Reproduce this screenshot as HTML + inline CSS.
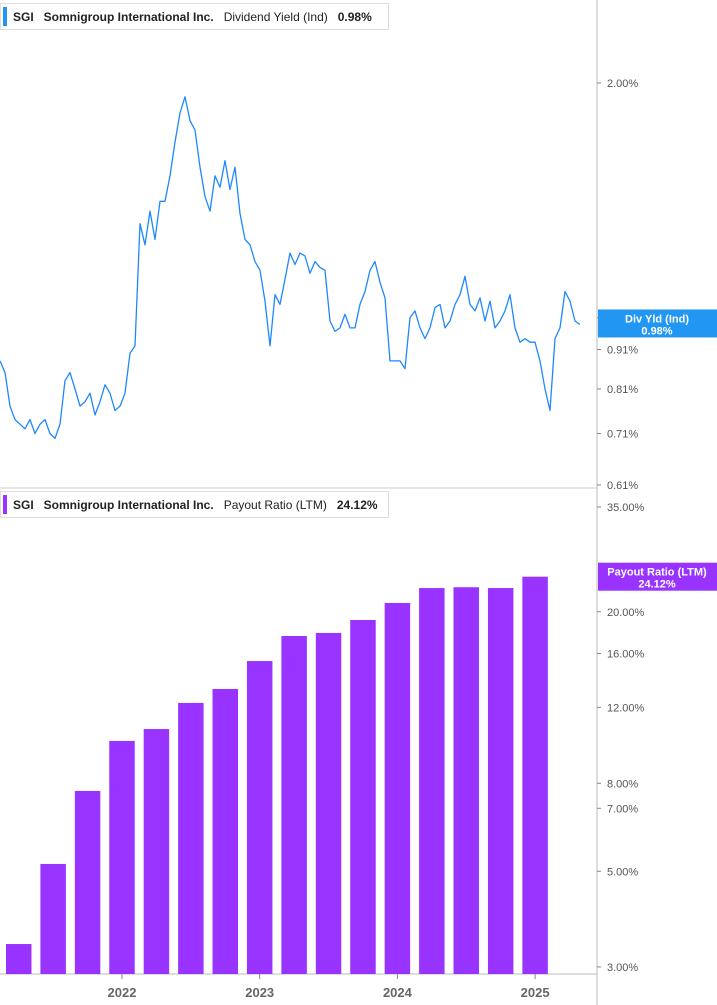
<!DOCTYPE html>
<html><head><meta charset="utf-8"><style>
body{margin:0;background:#fff;font-family:"Liberation Sans",sans-serif;}
svg{display:block}
</style></head><body>
<svg id="c" width="717" height="1005">
<line x1="597" y1="0" x2="597" y2="1005" stroke="#bbb"/>
<line x1="0" y1="488" x2="597" y2="488" stroke="#ccc"/>
<line x1="0" y1="974" x2="597" y2="974" stroke="#bbb"/>
<g id="topPanel"></g><g id="botPanel"></g><g id="xa"></g>
<g>
<rect x="0.5" y="3.5" width="388" height="26" fill="#fff" stroke="#ddd"/>
<rect x="3" y="7" width="4" height="19" fill="#2196f3"/>
<text x="13" y="21" font-size="12" font-weight="bold" fill="#222">SGI<tspan dx="10">Somnigroup International Inc.</tspan><tspan dx="10" font-weight="normal">Dividend Yield (Ind)</tspan><tspan dx="10">0.98%</tspan></text>
</g>
<g>
<rect x="0.5" y="491.5" width="388" height="26" fill="#fff" stroke="#ddd"/>
<rect x="3" y="495" width="4" height="19" fill="#9933ff"/>
<text x="13" y="509" font-size="12" font-weight="bold" fill="#222">SGI<tspan dx="10">Somnigroup International Inc.</tspan><tspan dx="10" font-weight="normal">Payout Ratio (LTM)</tspan><tspan dx="10">24.12%</tspan></text>
</g>
</svg>
<script>
const lineStart=2021.114, lineStep=0.03631;
const yieldVals=[0.88,0.85,0.77,0.74,0.73,0.72,0.74,0.71,0.73,0.74,0.71,0.70,0.73,0.83,0.85,0.81,0.77,0.78,0.80,0.75,0.78,0.82,0.80,0.76,0.77,0.80,0.90,0.92,1.32,1.24,1.37,1.26,1.41,1.41,1.52,1.68,1.83,1.92,1.79,1.74,1.56,1.43,1.37,1.52,1.47,1.59,1.46,1.56,1.36,1.26,1.24,1.18,1.15,1.05,0.92,1.07,1.04,1.12,1.21,1.17,1.21,1.20,1.14,1.18,1.16,1.15,0.99,0.96,0.97,1.01,0.97,0.97,1.04,1.08,1.15,1.18,1.11,1.06,0.88,0.88,0.88,0.86,1.00,1.02,0.97,0.94,0.97,1.03,1.04,0.97,0.99,1.04,1.07,1.13,1.04,1.02,1.06,0.99,1.05,0.97,0.99,1.02,1.07,0.97,0.93,0.94,0.93,0.93,0.88,0.81,0.76,0.94,0.97,1.08,1.05,0.99,0.98];
const topTicks=[2.00,1.00,0.91,0.81,0.71,0.61];
const barStart=2021.25, barStep=0.25;
const payoutVals=[3.39,5.20,7.68,10.03,10.69,12.29,13.24,15.37,17.57,17.86,19.14,20.96,22.7,22.8,22.7,24.12];
const botTicks=[35,20,16,12,8,7,5,3];
const years=[2022,2023,2024,2025];
const NS="http://www.w3.org/2000/svg";
const xS=t=>122+(t-2022)*137.7;
const yTop=v=>83+Math.log(2/v)*338.5;
const yBot=v=>507+Math.log(35/v)*187.2;
function el(tag,attrs,parent){const e=document.createElementNS(NS,tag);for(const k in attrs)e.setAttribute(k,attrs[k]);parent.appendChild(e);return e;}
const gTop=document.getElementById('topPanel'),gBot=document.getElementById('botPanel'),gX=document.getElementById('xa');
topTicks.forEach(v=>{
 const y=yTop(v);
 const t=el('text',{x:607,y:y+4,'font-size':11,fill:'#555'},gTop);
 
 
 t.textContent=v.toFixed(2)+'%';
 el('line',{x1:597,y1:y,x2:601,y2:y,stroke:'#888'},gTop);
});
const pts=yieldVals.map((v,i)=>xS(lineStart+i*lineStep).toFixed(1)+','+yTop(v).toFixed(1)).join(' ');
const pl=el('polyline',{points:pts,fill:'none',stroke:'#1e88ff','stroke-width':1.3,'stroke-linejoin':'round'},gTop);


const lastY=yieldVals[yieldVals.length-1];
const tb=el('g',{},gTop);


const ty=yTop(lastY);
el('rect',{x:598,y:ty-15,width:119,height:28,fill:'#2196f3'},tb);
const t1=el('text',{x:657,y:ty-2,'font-size':11,'font-weight':'bold',fill:'#fff','text-anchor':'middle'},tb);t1.textContent='Div Yld (Ind)';
const t2=el('text',{x:657,y:ty+10,'font-size':11,'font-weight':'bold',fill:'#fff','text-anchor':'middle'},tb);t2.textContent=lastY.toFixed(2)+'%';
botTicks.forEach(v=>{
 const y=yBot(v);
 const t=el('text',{x:607,y:y+4,'font-size':11,fill:'#555'},gBot);
 
 
 t.textContent=v.toFixed(2)+'%';
 el('line',{x1:597,y1:y,x2:601,y2:y,stroke:'#888'},gBot);
});
payoutVals.forEach((v,i)=>{
 const cx=xS(barStart+i*barStep),w=0.185*137.7,y=yBot(v);
 const r=el('rect',{x:cx-w/2,y:y,width:w,height:974-y,fill:'#9933ff'},gBot);
 
 
});
const lp=payoutVals[payoutVals.length-1];
const pg=el('g',{},gBot);


const py=yBot(lp);
el('rect',{x:598,y:py-14,width:119,height:28,fill:'#9933ff'},pg);
const p1=el('text',{x:657,y:py-1,'font-size':11,'font-weight':'bold',fill:'#fff','text-anchor':'middle'},pg);p1.textContent='Payout Ratio (LTM)';
const p2=el('text',{x:657,y:py+11,'font-size':11,'font-weight':'bold',fill:'#fff','text-anchor':'middle'},pg);p2.textContent=lp.toFixed(2)+'%';
years.forEach(yr=>{
 const x=xS(yr);
 el('line',{x1:x,y1:974,x2:x,y2:979,stroke:'#888'},gX);
 const t=el('text',{x:x,y:997,'font-size':13,'font-weight':'bold',fill:'#666','text-anchor':'middle'},gX);
 
 
 t.textContent=yr;
});
</script>
</body></html>
